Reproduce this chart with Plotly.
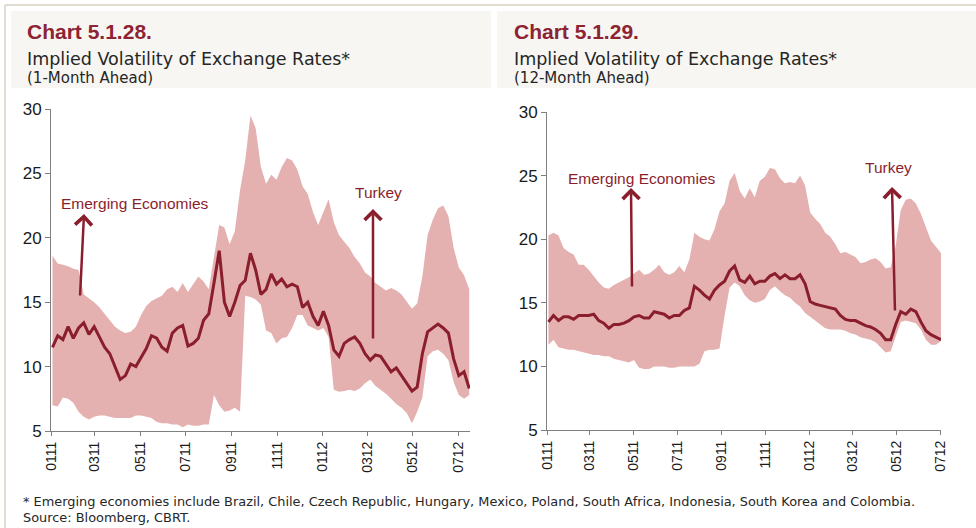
import plotly.graph_objects as go
import pandas as pd

# ---------------- data (weekly readings) ----------------
# Chart 5.1.28 : 1-month ahead implied volatility
turkey_1m = [11.5, 12.4, 12.1, 13.1, 12.2, 13.0, 13.4, 12.5, 13.1, 12.3,
             11.5, 11.0, 10.0, 9.0, 9.3, 10.2, 10.0, 10.7, 11.4, 12.4,
             12.2, 11.5, 11.2, 12.6, 13.0, 13.2, 11.6, 11.8, 12.2, 13.6,
             14.1, 16.5, 19.0, 15.0, 13.9, 15.0, 16.3, 16.7, 18.8, 17.5,
             15.6, 16.0, 17.2, 16.4, 16.8, 16.2, 16.4, 16.2, 14.6, 15.0,
             13.9, 13.2, 14.3, 13.2, 11.3, 10.8, 11.8, 12.1, 12.3, 11.8,
             11.0, 10.5, 10.9, 10.8, 10.2, 9.6, 9.9, 9.3, 8.8, 8.1,
             8.4, 11.0, 12.7, 13.0, 13.3, 13.0, 12.6, 10.6, 9.3, 9.6,
             8.3]
em_max_1m = [18.6, 18.0, 17.9, 17.8, 17.6, 17.5, 15.6, 15.3, 15.0, 14.6,
             14.1, 13.6, 13.1, 12.8, 12.6, 12.7, 13.1, 14.0, 14.7, 15.1,
             15.3, 15.5, 16.0, 16.2, 15.8, 16.5, 15.8, 16.4, 17.0, 16.6,
             16.0, 18.5, 21.0, 20.8, 19.5, 20.5, 23.7, 26.0, 29.5, 28.5,
             25.5, 24.2, 24.9, 24.5, 25.5, 26.2, 26.0, 25.3, 24.0, 23.4,
             22.0, 21.0, 22.0, 23.0, 21.2, 20.2, 19.7, 19.2, 18.5, 18.0,
             17.3, 17.0, 16.5, 16.2, 15.9, 16.1, 15.9, 15.6, 15.0, 14.5,
             14.9, 17.0, 20.2, 21.4, 22.3, 22.5, 21.7, 19.2, 17.7, 17.1,
             16.0]
em_min_1m = [7.0, 6.9, 7.6, 7.5, 7.2, 6.5, 6.1, 5.9, 6.1, 6.2,
             6.2, 6.1, 6.0, 6.0, 6.0, 6.0, 6.2, 6.2, 6.1, 6.0,
             5.7, 5.6, 5.6, 5.5, 5.5, 5.3, 5.5, 5.4, 5.4, 5.5,
             5.5, 7.8, 7.0, 6.5, 6.6, 6.8, 6.5, 15.5, 15.4, 15.2,
             14.8, 12.8, 12.6, 11.8, 12.2, 12.3, 13.0, 14.0, 14.0, 13.2,
             13.0, 12.8, 13.0, 12.3, 8.2, 8.05, 8.1, 8.2, 8.1, 8.3,
             8.7, 9.0, 8.5, 8.2, 7.9, 7.5, 7.1, 6.8, 6.4, 5.6,
             6.5, 7.6, 10.8, 11.2, 11.3, 11.0, 10.5, 8.8, 7.8, 7.5,
             7.8]

# Chart 5.1.29 : 12-month ahead implied volatility
turkey_12m = [13.5, 14.0, 13.6, 13.9, 13.9, 13.7, 14.0, 14.0, 14.0, 14.1,
              13.6, 13.4, 13.0, 13.3, 13.3, 13.4, 13.6, 13.9, 14.0, 13.8,
              13.8, 14.3, 14.2, 14.1, 13.8, 14.0, 14.0, 14.4, 14.6, 16.3,
              16.0, 15.6, 15.3, 16.0, 16.4, 16.7, 17.5, 17.9, 16.8, 16.6,
              17.1, 16.5, 16.7, 16.7, 17.1, 17.3, 16.9, 17.2, 16.9, 16.9,
              17.2, 16.5, 15.1, 14.9, 14.8, 14.7, 14.6, 14.5, 14.0, 13.7,
              13.6, 13.6, 13.4, 13.2, 13.1, 12.9, 12.6, 12.1, 12.1, 13.3,
              14.3, 14.1, 14.5, 14.3, 13.5, 12.8, 12.5, 12.3, 12.1]
em_max_12m = [20.3, 20.5, 20.3, 19.3, 19.0, 18.8, 18.0, 18.0, 17.6, 17.1,
              16.6, 16.2, 16.1, 16.4, 16.6, 16.8, 17.0, 17.3, 17.6, 17.2,
              17.3, 17.6, 18.0, 17.4, 17.2, 17.4, 17.9, 17.4, 18.4, 20.5,
              20.2, 20.0, 19.9, 20.8, 22.2, 22.8, 24.6, 25.2, 23.8, 23.2,
              24.0, 23.3, 24.6, 24.9, 25.6, 25.5, 24.8, 24.4, 24.5, 24.4,
              25.0, 24.2, 22.1, 21.6, 21.2, 20.5, 20.2, 19.6, 18.9, 19.0,
              18.8, 18.6, 18.1, 18.2, 18.4, 18.5, 18.2, 17.7, 17.8, 19.5,
              22.3, 23.1, 23.2, 22.8, 22.0, 21.0, 19.9, 19.4, 18.9]
em_min_12m = [11.7, 12.1, 11.5, 11.4, 11.3, 11.3, 11.2, 11.1, 11.0, 10.9,
              10.9, 10.8, 10.8, 10.6, 10.5, 10.4, 10.3, 10.5, 9.9, 9.8,
              9.8, 10.0, 10.0, 10.0, 9.9, 9.9, 10.0, 10.0, 10.0, 10.0,
              10.2, 11.2, 11.3, 11.3, 11.4, 14.0, 16.2, 16.6, 16.3, 15.6,
              15.2, 15.0, 15.1, 15.3, 16.0, 16.3, 15.9, 15.6, 15.4, 15.0,
              14.7, 14.2, 13.9, 13.6, 13.3, 13.0, 12.9, 12.9, 12.9, 12.8,
              12.6, 12.5, 12.3, 12.2, 12.1, 11.9, 11.5, 11.1, 11.2, 12.3,
              13.5, 13.6, 13.5, 13.4, 12.9, 12.1, 11.7, 11.7, 12.0]

tick_vals = ['2011-01-01', '2011-03-01', '2011-05-01', '2011-07-01', '2011-09-01',
             '2011-11-01', '2012-01-01', '2012-03-01', '2012-05-01', '2012-07-01']
tick_text = ['0111', '0311', '0511', '0711', '0911', '1111', '0112', '0312', '0512', '0712']
y_ticks = [5, 10, 15, 20, 25, 30]

dates_1m = pd.date_range('2011-01-03', periods=len(turkey_1m), freq='7D')
dates_12m = pd.date_range('2011-01-03', periods=len(turkey_12m), freq='7D')

# ---------------- style ----------------
W, H = 976, 528
RED = '#8B1E2D'
BAND = '#E4B0B0'
AXC = '#7F7F7F'


def px(x):
    return x / W


def py(y):
    return 1 - y / H


fig = go.Figure()

for dates, lo, hi, tr, xa, ya in [
        (dates_1m, em_min_1m, em_max_1m, turkey_1m, 'x', 'y'),
        (dates_12m, em_min_12m, em_max_12m, turkey_12m, 'x2', 'y2')]:
    fig.add_trace(go.Scatter(x=dates, y=lo, mode='lines', line=dict(width=0, color=BAND),
                             showlegend=False, hoverinfo='skip', xaxis=xa, yaxis=ya))
    fig.add_trace(go.Scatter(x=dates, y=hi, mode='lines', line=dict(width=0, color=BAND),
                             fill='tonexty', fillcolor=BAND, name='Emerging Economies',
                             showlegend=False, xaxis=xa, yaxis=ya))
    fig.add_trace(go.Scatter(x=dates, y=tr, mode='lines', line=dict(width=3, color=RED),
                             name='Turkey', showlegend=False, xaxis=xa, yaxis=ya))

xcommon = dict(type='date', tickmode='array', tickvals=tick_vals, ticktext=tick_text,
               tickangle=-90, showgrid=False, zeroline=False, showline=True, automargin=False,
               linecolor=AXC, linewidth=1, ticks='outside', ticklen=4, tickcolor=AXC,
               tickfont=dict(family='Liberation Sans, Arial', size=14, color='#1a1a1a'))
ycommon = dict(range=[5, 30], tickvals=y_ticks, showgrid=False, zeroline=False, automargin=False,
               showline=True, linecolor=AXC, linewidth=1, ticks='outside', ticklen=5,
               tickcolor=AXC,
               tickfont=dict(family='Liberation Sans, Arial', size=17, color='#1a1a1a'))

fig.update_layout(
    template='none',
    width=W, height=H, autosize=False, margin=dict(l=0, r=0, t=0, b=0, pad=0),
    paper_bgcolor='white', plot_bgcolor='white', showlegend=False,
    xaxis=dict(xcommon, domain=[px(51), px(470)], range=['2011-01-01', '2012-07-17'], anchor='y'),
    yaxis=dict(ycommon, domain=[py(431), py(109)], anchor='x'),
    xaxis2=dict(xcommon, domain=[px(547), px(941)], range=['2011-01-01', '2012-07-02'], anchor='y2'),
    yaxis2=dict(ycommon, domain=[py(430), py(112)], anchor='x2'),
)

# frame / title backgrounds
shapes = [
    dict(type='rect', xref='paper', yref='paper', x0=px(11), x1=px(491), y0=py(88), y1=py(11),
         fillcolor='#F7F6F2', line=dict(width=0), layer='below'),
    dict(type='rect', xref='paper', yref='paper', x0=px(497), x1=px(976), y0=py(88), y1=py(11),
         fillcolor='#F7F6F2', line=dict(width=0), layer='below'),
    dict(type='line', xref='paper', yref='paper', x0=px(5), x1=1, y0=py(5), y1=py(5),
         line=dict(color='#D8D0C4', width=1.5)),
    dict(type='line', xref='paper', yref='paper', x0=px(5), x1=px(5), y0=py(5), y1=0,
         line=dict(color='#D8D0C4', width=1.5)),
]
fig.update_layout(shapes=shapes)

ann = []


def text(x, y, s, size, color, family, bold=False, xanchor='left'):
    ann.append(dict(xref='paper', yref='paper', x=px(x), y=py(y), text=('<b>%s</b>' % s) if bold else s,
                    showarrow=False, xanchor=xanchor, yanchor='middle',
                    font=dict(size=size, color=color, family=family)))


def arrow(xtip, ytip, xtail, ytail):
    ann.append(dict(xref='paper', yref='paper', x=px(xtip), y=py(ytip), text='',
                    showarrow=True, arrowhead=4, arrowsize=1.3, arrowwidth=2.5,
                    arrowcolor=RED, ax=xtail - xtip, ay=ytail - ytip, standoff=0))


TF = 'DejaVu Sans, Verdana, sans-serif'
AF = 'Liberation Sans, Arial, sans-serif'
text(25, 31, 'Chart 5.1.28.', 21, '#8E2332', AF, bold=True)
text(25, 59, 'Implied Volatility of Exchange Rates*', 17.5, '#262626', TF)
text(25, 78, '(1-Month Ahead)', 15, '#262626', TF)
text(512, 31, 'Chart 5.1.29.', 21, '#8E2332', AF, bold=True)
text(512, 59, 'Implied Volatility of Exchange Rates*', 17.5, '#262626', TF)
text(512, 78, '(12-Month Ahead)', 15, '#262626', TF)

text(135, 203, 'Emerging Economies', 15.5, RED, AF, xanchor='center')
arrow(84, 214, 80, 297)
text(378, 193, 'Turkey', 15.5, RED, AF, xanchor='center')
arrow(373, 209, 373, 340)
text(642, 178, 'Emerging Economies', 15.5, RED, AF, xanchor='center')
arrow(631, 188, 632, 288)
text(888, 168, 'Turkey', 15.5, RED, AF, xanchor='center')
arrow(892, 187, 895, 312)

text(21, 501, '* Emerging economies include Brazil, Chile, Czech Republic, Hungary, Mexico, Poland, '
     'South Africa, Indonesia, South Korea and Colombia.', 12.9, '#262626', TF)
text(21, 517, 'Source: Bloomberg, CBRT.', 12.9, '#262626', TF)

fig.update_layout(annotations=ann)

fig.write_html('out.html', config={'displayModeBar': False},
               post_script="document.body.style.margin='0px';document.body.style.padding='0px';")
